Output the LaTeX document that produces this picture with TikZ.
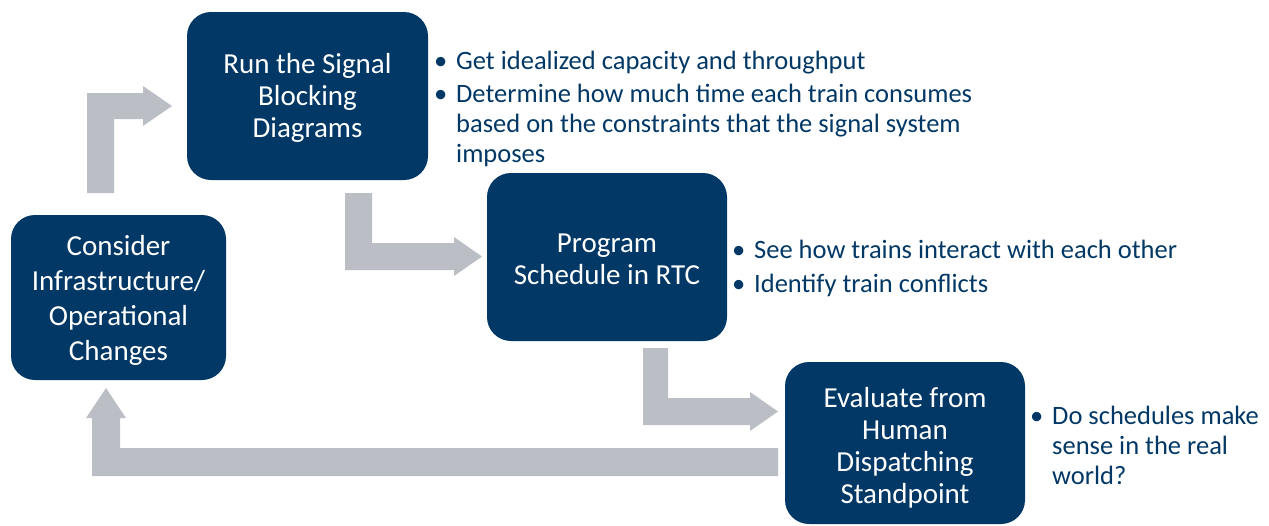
\documentclass[tikz,border=0pt]{standalone}
\usepackage{fontspec}
\setmainfont{Carlito}
\definecolor{navy}{RGB}{2,56,101}
\definecolor{arrowgrey}{RGB}{187,190,197}
\newcommand\bitem[1]{\makebox[20pt][l]{\hspace*{-2pt}\textbullet}#1}
\newcommand\bcont[1]{\hspace*{20pt}#1}
\begin{document}
\begin{tikzpicture}[x=1pt,y=-1pt,
  box/.style={fill=navy,draw=none,rounded corners=24pt,text=white,align=center,
    inner sep=0pt,font=\fontsize{29}{32}\selectfont},
  boxtext/.style={text=white,align=center,font=\fontsize{29}{32}\selectfont},
  bul/.style={text=navy,anchor=north west,inner sep=0pt,align=left,
    font=\fontsize{26.5}{30}\selectfont}]
\useasboundingbox (0,0) rectangle (1269,525);
% block arrows
\fill[arrowgrey] (87,193) -- (87,93) -- (143,93) -- (143,86) -- (172,106) -- (143,126) -- (143,119) -- (114,119) -- (114,193) -- cycle;
\fill[arrowgrey] (345,193) -- (372,193) -- (372,243) -- (454,243) -- (454,237) -- (482,256.5) -- (454,276) -- (454,270) -- (345,270) -- cycle;
\fill[arrowgrey] (643,348) -- (668,348) -- (668,398) -- (750,398) -- (750,392) -- (778,411.5) -- (750,431) -- (750,425) -- (643,425) -- cycle;
\fill[arrowgrey] (778,448) -- (778,476) -- (92,476) -- (92,418) -- (86,418) -- (106,388) -- (126,418) -- (120,418) -- (120,448) -- cycle;
% boxes
\node[box,minimum width=241pt,minimum height=168pt] (run) at (307.5,96) {};
\node[boxtext] (runt) at (307.5,98) {Run the Signal\\Blocking\\Diagrams};
\node[box,minimum width=215pt,minimum height=165pt] (consider) at (118.5,297.5) {};
\node[boxtext,font=\fontsize{29}{35}\selectfont] (considert) at (118.5,300.5) {Consider\\Infrastructure/\\Operational\\Changes};
\node[box,minimum width=240pt,minimum height=168pt] (program) at (607,257) {};
\node[boxtext] (programt) at (607,259) {Program\\Schedule in RTC};
\node[box,minimum width=240pt,minimum height=162pt] (evaluate) at (905,443) {};
\node[boxtext] (evaluatet) at (905,447.5) {Evaluate from\\Human\\Dispatching\\Standpoint};
% bullets
\node[bul] (b1) at (436,51) {\bitem{Get idealized capacity and throughput}};
\node[bul] (b2) at (436,84) {\bitem{Determine how much time each train consumes}\\\bcont{based on the constraints that the signal system}\\\bcont{imposes}};
\node[bul] (b3) at (734,240) {\bitem{See how trains interact with each other}};
\node[bul] (b4) at (734,274) {\bitem{Identify train conflicts}};
\node[bul] (b5) at (1032,406) {\bitem{Do schedules make}\\\bcont{sense in the real}\\\bcont{world?}};
\end{tikzpicture}
\end{document}
